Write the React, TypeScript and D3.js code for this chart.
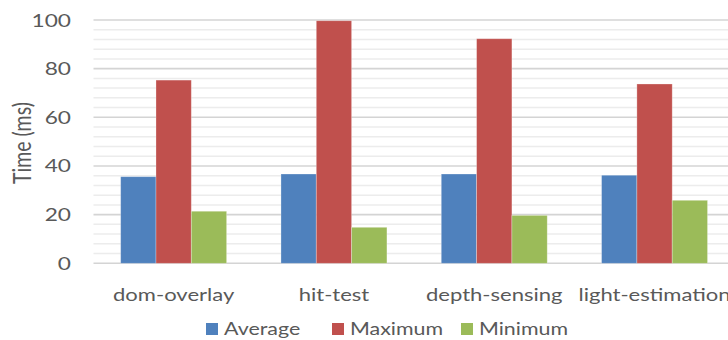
import React from "react";
import * as d3 from "d3";

const categories = ["dom-overlay", "hit-test", "depth-sensing", "light-estimation"];
const seriesNames = ["Average", "Maximum", "Minimum"];
const average = [35.6, 36.7, 36.7, 36.2];
const maximum = [75.3, 99.7, 92.3, 73.7];
const minimum = [21.4, 14.8, 19.7, 25.9];
const yTicks = [0, 20, 40, 60, 80, 100];
const yTitle = "Time (ms)";

const colors = ["#4F81BD", "#C0504D", "#9BBB59"];
const seriesValues = [average, maximum, minimum];

const W = 728;
const H = 340;
const FONT = "Lato, 'Open Sans', sans-serif";
const TEXT = "#595959";
const SX = 1.26; // horizontal glyph stretch

function SText({ x, y, anchor = "start", size = 17.5, children, rotate = 0, sx = SX }: any) {
  const t = rotate
    ? `translate(${x},${y}) scale(${sx},1) rotate(${rotate})`
    : `translate(${x},${y}) scale(${sx},1)`;
  return (
    <text
      transform={t}
      textAnchor={anchor}
      fontFamily={FONT}
      fontSize={size}
      fill={TEXT}
    >
      {children}
    </text>
  );
}

export default function App() {
  const plotLeft = 93.5;
  const plotRight = 734.7;
  const x = d3
    .scaleBand<string>()
    .domain(categories)
    .range([plotLeft, plotRight])
    .paddingInner(0.339)
    .paddingOuter(0.1695);
  const xs = d3
    .scaleBand<string>()
    .domain(seriesNames)
    .range([0, x.bandwidth()]);
  const y = d3.scaleLinear().domain([0, 100]).range([263.3, 20]);

  const minorTicks = d3.range(0, 101, 4).filter((v) => v % 20 !== 0);

  return (
    <svg
      width={W}
      height={H}
      style={{ position: "absolute", left: 0, top: 0, background: "#fff" }}
    >
      {minorTicks.map((v) => (
        <line
          key={"m" + v}
          x1={plotLeft}
          x2={W}
          y1={y(v)}
          y2={y(v)}
          stroke="#ececec"
          strokeWidth={1.5}
        />
      ))}
      {yTicks.map((v) => (
        <line
          key={"g" + v}
          x1={plotLeft}
          x2={W}
          y1={y(v)}
          y2={y(v)}
          stroke="#d4d4d4"
          strokeWidth={1.6}
        />
      ))}
      {yTicks.map((v) => (
        <SText key={"t" + v} x={71} y={y(v) + 6.5} anchor="end" size={18}>
          {v}
        </SText>
      ))}
      <SText x={31} y={143} anchor="middle" rotate={-90} size={19.5} sx={1.3}>
        {yTitle}
      </SText>

      {categories.map((c, i) => (
        <g key={c} transform={`translate(${x(c)},0)`}>
          {seriesNames.map((s, j) => {
            const v = seriesValues[j][i];
            return (
              <rect
                key={s}
                x={xs(s)}
                y={y(v)}
                width={xs.bandwidth()}
                height={y(0) - y(v)}
                fill={colors[j]}
                stroke="#ffffff"
                strokeOpacity={0.35}
                strokeWidth={0.8}
              />
            );
          })}
        </g>
      ))}

      {categories.map((c) => (
        <SText key={"c" + c} x={x(c)! + x.bandwidth() / 2} y={301} anchor="middle">
          {c}
        </SText>
      ))}

      {(() => {
        const starts = [206, 332, 461];
        return seriesNames.map((s, j) => (
          <g key={"l" + s}>
            <rect x={starts[j]} y={323} width={12} height={12} fill={colors[j]} />
            <SText x={starts[j] + 18} y={335} size={17}>
              {s}
            </SText>
          </g>
        ));
      })()}
    </svg>
  );
}
